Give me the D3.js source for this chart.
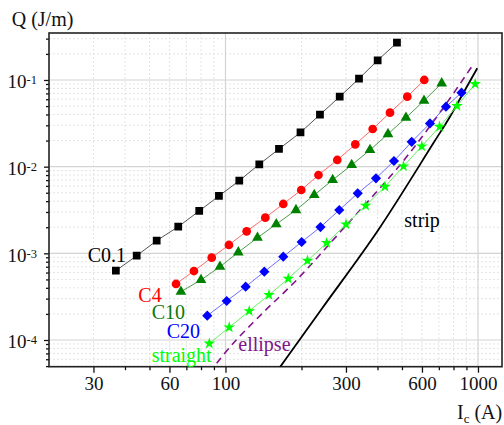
<!DOCTYPE html>
<html><head><meta charset="utf-8">
<script src="https://cdn.jsdelivr.net/npm/d3@7"></script>
<style>
html,body{margin:0;padding:0;background:#fff;}
svg{display:block;font-family:"Liberation Serif","Times New Roman",serif;}
</style></head>
<body>
<svg id="chart" width="504" height="425"></svg>
<script>
// ---- data ----
const icC01 = [36.8, 44.5, 53.4, 65.0, 78.7, 94.2, 113.4, 136.1, 162.9, 198.2, 236.7, 283.4, 337.9, 400.6, 477.7];
const qC01  = [6.30e-4, 9.39e-4, 1.40e-3, 2.03e-3, 3.08e-3, 4.59e-3, 6.89e-3, 1.065e-2, 1.60e-2, 2.48e-2, 3.98e-2, 6.42e-2, 0.1035, 0.1688, 0.2694];

const icC4 = [63.7, 75.0, 88.2, 103.2, 121.3, 143.8, 169.4, 199.6, 233.5, 277.2, 326.7, 382.8, 448.3, 524.8, 612.8];
const qC4  = [4.43e-4, 6.25e-4, 8.91e-4, 1.248e-3, 1.796e-3, 2.58e-3, 3.71e-3, 5.38e-3, 8.01e-3, 1.194e-2, 1.81e-2, 2.72e-2, 4.20e-2, 6.42e-2, 0.100];

const icC10 = [66.6, 80.0, 95.1, 112.4, 133.9, 158.9, 190.2, 224.7, 265.8, 316.1, 373.5, 440.2, 518.6, 611.2, 718.3];
const qC10  = [3.61e-4, 4.93e-4, 7.01e-4, 1.028e-3, 1.515e-3, 2.17e-3, 3.16e-3, 4.71e-3, 7.02e-3, 1.045e-2, 1.557e-2, 2.38e-2, 3.67e-2, 5.77e-2, 9.16e-2];

const icC20 = [84.7, 101.1, 120.2, 142.5, 169.4, 200.3, 237.8, 282.3, 334.0, 394.5, 464.8, 546.4, 645.5, 746.9, 860.5];
const qC20  = [1.908e-4, 2.82e-4, 4.12e-4, 6.14e-4, 9.15e-4, 1.351e-3, 2.01e-3, 3.16e-3, 4.93e-3, 7.34e-3, 1.163e-2, 1.936e-2, 3.15e-2, 4.92e-2, 7.14e-2];

const icStraight = [86.3, 103.5, 124.2, 148.7, 177.3, 211.3, 251.6, 300.1, 359.1, 428.2, 507.0, 599.0, 704.6, 825.7, 974.8];
const qStraight  = [9.11e-5, 1.401e-4, 2.16e-4, 3.31e-4, 5.10e-4, 8.23e-4, 1.316e-3, 2.16e-3, 3.55e-3, 5.87e-3, 1.010e-2, 1.718e-2, 2.89e-2, 5.01e-2, 8.99e-2];

const icEllipse = [92.3, 105.8, 141.1, 191.4, 297.4, 491.1, 707.2, 964.2];
const qEllipse  = [5.38e-5, 8.76e-5, 2.08e-4, 4.93e-4, 2.03e-3, 1.045e-2, 4.22e-2, 0.1558];

const icStrip = [159.2, 240.4, 402.8, 665.3, 774.5, 888.3, 993.6];
const qStrip  = [4.27e-5, 2.28e-4, 1.86e-3, 1.862e-2, 3.77e-2, 7.67e-2, 0.1365];

const xTickLabels = [30, 60, 100, 300, 600, 1000];
const xMajor = [100, 1000];
const xMinor = [30, 40, 50, 60, 70, 80, 90, 200, 300, 400, 500, 600, 700, 800, 900];
const yMajorExp = [-4, -3, -2, -1];

// ---- layout ----
const L = 49, R = 502, T = 33, B = 366.7;
const svg = d3.select("#chart");
const x = d3.scaleLog().domain([20, 1245]).range([L, R]);
const y = d3.scaleLog().domain([4.92e-5, 0.3485]).range([B, T]);

const yMinor = [];
for (let e = -5; e <= -1; e++) for (let m = 2; m <= 9; m++) {
  const v = m * Math.pow(10, e);
  if (v >= y.domain()[0] && v <= y.domain()[1]) yMinor.push(v);
}
const yMajor = yMajorExp.map(e => Math.pow(10, e));

// grid
const grid = svg.append("g");
grid.selectAll(".gxm").data(xMinor).join("line")
  .attr("x1", d => x(d)).attr("x2", d => x(d)).attr("y1", T).attr("y2", B)
  .attr("stroke", "#e4e4e4").attr("stroke-width", 1).attr("stroke-dasharray", "2,2");
grid.selectAll(".gym").data(yMinor).join("line")
  .attr("y1", d => y(d)).attr("y2", d => y(d)).attr("x1", L).attr("x2", R)
  .attr("stroke", "#e4e4e4").attr("stroke-width", 1).attr("stroke-dasharray", "2,2");
grid.selectAll(".gxM").data(xMajor).join("line")
  .attr("x1", d => x(d)).attr("x2", d => x(d)).attr("y1", T).attr("y2", B)
  .attr("stroke", "#d4d4d4").attr("stroke-width", 1.2);
grid.selectAll(".gyM").data(yMajor).join("line")
  .attr("y1", d => y(d)).attr("y2", d => y(d)).attr("x1", L).attr("x2", R)
  .attr("stroke", "#d4d4d4").attr("stroke-width", 1.2);

// axes
const axB1 = d3.axisBottom(x).tickValues(xMinor.filter(d => !xTickLabels.includes(d))).tickSize(3.5).tickFormat("");
const axB2 = d3.axisBottom(x).tickValues(xTickLabels).tickSize(6).tickPadding(4).tickFormat(d => d);
[axB1, axB2].forEach(a => {
  const g = svg.append("g").attr("transform", `translate(0,${B})`).call(a);
  g.select(".domain").remove();
  g.selectAll("line").attr("stroke", "#111").attr("stroke-width", 1.3);
  g.selectAll("text").attr("font-family", "Liberation Serif").attr("font-size", 19).attr("fill", "#111").attr("dy", "0.71em");
});
const axL1 = d3.axisLeft(y).tickValues(yMinor).tickSize(3).tickFormat("");
const axL2 = d3.axisLeft(y).tickValues(yMajor).tickSize(5).tickFormat("");
[axL1, axL2].forEach(a => {
  const g = svg.append("g").attr("transform", `translate(${L},0)`).call(a);
  g.select(".domain").remove();
  g.selectAll("line").attr("stroke", "#111").attr("stroke-width", 1.3);
});
// y labels 10^n
const yl = svg.append("g").attr("font-family", "Liberation Serif").attr("fill", "#111");
yMajorExp.forEach(e => {
  const t = yl.append("text").attr("x", 37).attr("y", y(Math.pow(10, e)) + 8.3).attr("text-anchor", "end").attr("font-size", 19);
  t.append("tspan").text("10");
  t.append("tspan").attr("font-size", 12.5).attr("dy", -4).text("-" + (-e));
});

// frame
svg.append("rect").attr("x", L).attr("y", T).attr("width", R - L).attr("height", B - T)
  .attr("fill", "none").attr("stroke", "#222").attr("stroke-width", 1.6);

// clip
svg.append("clipPath").attr("id", "clip").append("rect")
  .attr("x", L).attr("y", T).attr("width", R - L).attr("height", B - T);
const plot = svg.append("g").attr("clip-path", "url(#clip)");

const zip = (a, b) => a.map((v, i) => [v, b[i]]);
const line = d3.line().x(d => x(d[0])).y(d => y(d[1]));
const smooth = d3.line().x(d => x(d[0])).y(d => y(d[1])).curve(d3.curveCatmullRom.alpha(0.5));

// theory curves
plot.append("path").datum(zip(icEllipse, qEllipse)).attr("d", smooth)
  .attr("fill", "none").attr("stroke", "#80148a").attr("stroke-width", 1.6).attr("stroke-dasharray", "7,5");
plot.append("path").datum(zip(icStrip, qStrip)).attr("d", smooth)
  .attr("fill", "none").attr("stroke", "#000").attr("stroke-width", 1.8);

const series = [
  {ic: icC01, q: qC01, color: "#000000", lineColor: "#555555", sym: d3.symbolSquare, size: 60, rot: 0},
  {ic: icC4, q: qC4, color: "#ff0000", lineColor: "#ff6a6a", sym: d3.symbolCircle, size: 60, rot: 0},
  {ic: icC10, q: qC10, color: "#008000", lineColor: "#4c9c4c", sym: d3.symbolTriangle, size: 50, rot: 0},
  {ic: icC20, q: qC20, color: "#0000ff", lineColor: "#6c6cff", sym: d3.symbolSquare, size: 52, rot: 45},
  {ic: icStraight, q: qStraight, color: "#00ff00", lineColor: "#66ee66", sym: d3.symbolStar, size: 42, rot: 0},
];
series.forEach(s => {
  const pts = zip(s.ic, s.q);
  plot.append("path").datum(pts).attr("d", line)
    .attr("fill", "none").attr("stroke", s.lineColor).attr("stroke-width", 1);
  plot.selectAll(null).data(pts).join("path")
    .attr("transform", d => `translate(${x(d[0])},${y(d[1])}) rotate(${s.rot})`)
    .attr("d", d3.symbol().type(s.sym).size(s.size))
    .attr("fill", s.color);
});

// labels
const labels = [
  {t: "C0.1", x: 87.7, y: 262, c: "#000"},
  {t: "C4", x: 138.3, y: 302.2, c: "#ff0000"},
  {t: "C10", x: 151.7, y: 318.5, c: "#0a7a0a"},
  {t: "C20", x: 166.7, y: 338.3, c: "#0000ff"},
  {t: "straight", x: 151.7, y: 361.5, c: "#00ff00"},
  {t: "ellipse", x: 238.3, y: 350.7, c: "#80148a"},
  {t: "strip", x: 404.3, y: 227.3, c: "#000"},
];
svg.append("g").selectAll("text").data(labels).join("text")
  .attr("x", d => d.x).attr("y", d => d.y).attr("fill", d => d.c)
  .attr("font-family", "Liberation Serif").attr("font-size", 20).text(d => d.t);

// axis titles
svg.append("text").attr("x", 11.7).attr("y", 26).attr("font-family", "Liberation Serif")
  .attr("font-size", 20).attr("fill", "#111").text("Q (J/m)");
const xt = svg.append("text").attr("x", 457).attr("y", 419).attr("font-family", "Liberation Serif")
  .attr("font-size", 20).attr("fill", "#111");
xt.append("tspan").text("I");
xt.append("tspan").attr("font-size", 13).attr("dy", 3.5).text("c");
xt.append("tspan").attr("dy", -3.5).text(" (A)");
</script>
</body></html>
